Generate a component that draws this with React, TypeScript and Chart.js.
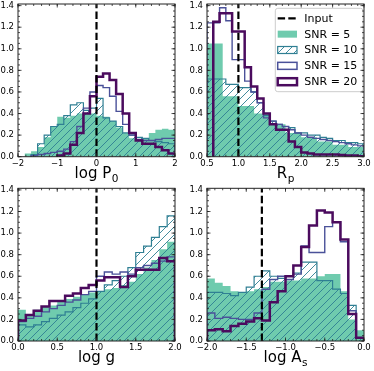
import React, { useEffect, useRef } from 'react';
import { Chart, registerables } from 'chart.js';

Chart.register(...registerables);

const FONT_FAMILY = '"DejaVu Sans", "Liberation Sans", sans-serif';
Chart.defaults.font.family = FONT_FAMILY;

// ---------------- shared axis / legend data ----------------
const Y_TICK_VALUES = [0, 0.2, 0.4, 0.6, 0.8, 1.0, 1.2, 1.4];
const Y_TICK_LABELS = ['0.0', '0.2', '0.4', '0.6', '0.8', '1.0', '1.2', '1.4'];
const Y_MAX = 1.415;
const LEGEND_LABELS = ['Input', 'SNR = 5', 'SNR = 10', 'SNR = 15', 'SNR = 20'];

// ---------------- panel 1: log P0 ----------------
const P0_TITLE = ['log P', '0'];
const P0_INPUT = 0;
const P0_X_TICKS = [-2, -1, 0, 1, 2];
const P0_X_LABELS = ['−2', '−1', '0', '1', '2'];
const P0_EDGES = [-2, -1.833, -1.667, -1.5, -1.333, -1.167, -1, -0.833, -0.667, -0.5, -0.333, -0.167, 0,
  0.167, 0.333, 0.5, 0.667, 0.833, 1, 1.167, 1.333, 1.5, 1.667, 1.833, 2];
const P0_SNR5 = [0, 0.03, 0.05, 0.09, 0.18, 0.28, 0.37, 0.36, 0.38, 0.4, 0.4, 0.4, 0.38, 0.37, 0.33, 0.27, 0.22, 0.17, 0.15, 0.17, 0.22, 0.25, 0.26, 0.25];
const P0_SNR10 = [0, 0, 0.02, 0.12, 0.2, 0.28, 0.3, 0.38, 0.48, 0.5, 0.43, 0.45, 0.54, 0.36, 0.33, 0.28, 0.22, 0.2, 0.18, 0.17, 0.15, 0.14, 0.13, 0.12];
const P0_SNR15 = [0, 0, 0.01, 0.02, 0.03, 0.04, 0.05, 0.07, 0.14, 0.28, 0.45, 0.6, 0.66, 0.64, 0.56, 0.42, 0.3, 0.2, 0.16, 0.15, 0.15, 0.16, 0.17, 0.17];
const P0_SNR20 = [0, 0, 0, 0, 0, 0, 0.01, 0.03, 0.11, 0.22, 0.4, 0.56, 0.74, 0.77, 0.71, 0.58, 0.4, 0.22, 0.15, 0.12, 0.12, 0.09, 0.06, 0.03];

// ---------------- panel 2: R_p ----------------
const RP_TITLE = ['R', 'p'];
const RP_INPUT = 1;
const RP_X_TICKS = [0.5, 1.0, 1.5, 2.0, 2.5, 3.0];
const RP_X_LABELS = ['0.5', '1.0', '1.5', '2.0', '2.5', '3.0'];
const RP_EDGES = [0.5, 0.6, 0.7, 0.8, 0.9, 1.0, 1.1, 1.2, 1.3, 1.4, 1.5, 1.6, 1.7, 1.8, 1.9, 2.0,
  2.1, 2.2, 2.3, 2.4, 2.5, 2.6, 2.7, 2.8, 2.9, 3.0];
const RP_EDGES_SNR5 = [0.5, 0.75, 1.0, 1.25, 1.5, 1.75, 2.0, 2.25, 2.5, 2.75, 3.0];
const RP_SNR5 = [1.05, 0.56, 0.47, 0.4, 0.3, 0.22, 0.18, 0.14, 0.11, 0.09];
const RP_SNR10 = [0.72, 0.72, 0.72, 0.67, 0.67, 0.64, 0.64, 0.6, 0.5, 0.38, 0.33, 0.3, 0.28, 0.27, 0.22, 0.22, 0.2, 0.2, 0.18, 0.17, 0.15, 0.15, 0.13, 0.13, 0.12];
const RP_SNR15 = [1.24, 1.24, 1.38, 1.26, 0.9, 0.9, 0.7, 0.6, 0.5, 0.36, 0.33, 0.3, 0.28, 0.25, 0.22, 0.2, 0.18, 0.17, 0.16, 0.15, 0.14, 0.13, 0.12, 0.11, 0.1];
const RP_SNR20 = [0, 1.25, 1.33, 1.33, 1.16, 1.16, 0.83, 0.65, 0.54, 0.4, 0.3, 0.25, 0.25, 0.14, 0.09, 0.04, 0.03, 0.02, 0.02, 0.02, 0.02, 0.015, 0.01, 0.01, 0.005];

// ---------------- panel 3: log g ----------------
const LG_TITLE = ['log g', ''];
const LG_INPUT = 1;
const LG_X_TICKS = [0, 0.5, 1.0, 1.5, 2.0];
const LG_X_LABELS = ['0.0', '0.5', '1.0', '1.5', '2.0'];
const LG_EDGES = [0, 0.1, 0.2, 0.3, 0.4, 0.5, 0.6, 0.7, 0.8, 0.9, 1.0, 1.1, 1.2, 1.3, 1.4, 1.5, 1.6, 1.7, 1.8, 1.9, 2.0];
const LG_SNR5 = [0.29, 0.25, 0.29, 0.32, 0.33, 0.37, 0.39, 0.41, 0.43, 0.45, 0.46, 0.48, 0.49, 0.52, 0.55, 0.62, 0.68, 0.75, 0.85, 0.92];
const LG_SNR10 = [0.15, 0.13, 0.15, 0.18, 0.21, 0.24, 0.27, 0.31, 0.35, 0.39, 0.46, 0.52, 0.56, 0.6, 0.68, 0.82, 0.88, 0.96, 1.06, 1.16];
const LG_SNR15 = [0.18, 0.21, 0.23, 0.27, 0.3, 0.33, 0.36, 0.38, 0.43, 0.46, 0.6, 0.64, 0.62, 0.64, 0.62, 0.68, 0.7, 0.72, 0.74, 0.78];
const LG_SNR20 = [0.19, 0.24, 0.28, 0.32, 0.37, 0.37, 0.42, 0.44, 0.49, 0.52, 0.56, 0.59, 0.59, 0.5, 0.6, 0.66, 0.66, 0.66, 0.77, 0.74];

// ---------------- panel 4: log A_s ----------------
const AS_TITLE = ['log A', 's'];
const AS_INPUT = -1.301;
const AS_X_TICKS = [-2, -1.5, -1, -0.5, 0];
const AS_X_LABELS = ['−2.0', '−1.5', '−1.0', '−0.5', '0.0'];
const AS_EDGES = [-2, -1.9, -1.8, -1.7, -1.6, -1.5, -1.4, -1.3, -1.2, -1.1, -1.0, -0.9, -0.8, -0.7, -0.6, -0.5, -0.4, -0.3, -0.2, -0.1, 0];
const AS_SNR5 = [0.58, 0.54, 0.51, 0.46, 0.45, 0.46, 0.48, 0.5, 0.55, 0.55, 0.56, 0.56, 0.58, 0.58, 0.6, 0.62, 0.62, 0.46, 0.2, 0.1];
const AS_SNR10 = [0.45, 0.45, 0.44, 0.42, 0.45, 0.5, 0.6, 0.65, 0.6, 0.58, 0.6, 0.63, 0.73, 0.73, 0.56, 0.56, 0.48, 0.44, 0.33, 0.03];
const AS_SNR15 = [0.26, 0.21, 0.22, 0.21, 0.2, 0.2, 0.26, 0.48, 0.57, 0.6, 0.57, 0.62, 0.88, 0.82, 0.82, 1.06, 1.1, 0.92, 0.28, 0.03];
const AS_SNR20 = [0.1, 0.11, 0.09, 0.14, 0.16, 0.18, 0.21, 0.19, 0.36, 0.46, 0.6, 0.7, 0.87, 1.07, 1.21, 1.19, 1.1, 0.94, 0.25, 0.03];

// ---------------- styles ----------------
const GREEN = '#6fcbae';
const TEAL = '#2f7f93';
const BLUE = '#4a5199';
const PURPLE = '#4b0b5e';
const SPINE = '#222222';

type Pt = { x: number; y: number };

function stepPoints(edges: number[], values: number[]): Pt[] {
  let first = 0;
  while (first < values.length && values[first] === 0) first++;
  let last = values.length - 1;
  while (last >= 0 && values[last] === 0) last--;
  const pts: Pt[] = [{ x: edges[first], y: 0 }];
  for (let i = first; i <= last; i++) {
    pts.push({ x: edges[i], y: values[i] });
    pts.push({ x: edges[i + 1], y: values[i] });
  }
  pts.push({ x: edges[last + 1], y: 0 });
  return pts;
}

function makeHatch(ctx: CanvasRenderingContext2D, color: string) {
  const c = document.createElement('canvas');
  c.width = 8;
  c.height = 8;
  const g = c.getContext('2d')!;
  g.strokeStyle = color;
  g.lineWidth = 0.9;
  g.beginPath();
  g.moveTo(-1, 9);
  g.lineTo(9, -1);
  g.moveTo(-1, 1);
  g.lineTo(1, -1);
  g.moveTo(7, 9);
  g.lineTo(9, 7);
  g.stroke();
  return ctx.createPattern(c, 'repeat');
}

const frameTicksPlugin = {
  id: 'frameTicks',
  afterDraw(chart: any, _args: any, opts: any) {
    const { ctx, chartArea: a } = chart;
    const xs = chart.scales.x;
    const ys = chart.scales.y;
    ctx.save();
    ctx.strokeStyle = SPINE;
    ctx.lineWidth = 0.8;
    const seg = (x1: number, y1: number, x2: number, y2: number) => {
      ctx.beginPath();
      ctx.moveTo(x1, y1);
      ctx.lineTo(x2, y2);
      ctx.stroke();
    };
    const xTick = (v: number, len: number) => {
      const p = xs.getPixelForValue(v);
      seg(p, a.bottom, p, a.bottom - len);
      seg(p, a.top, p, a.top + len);
    };
    const yTick = (v: number, len: number) => {
      const p = ys.getPixelForValue(v);
      seg(a.left, p, a.left + len, p);
      seg(a.right, p, a.right - len, p);
    };
    const nx = Math.round((xs.max - xs.min) / opts.xMinor);
    for (let i = 0; i <= nx; i++) xTick(xs.min + i * opts.xMinor, 2);
    const ny = Math.floor((ys.max - ys.min) / opts.yMinor + 1e-6);
    for (let i = 0; i <= ny; i++) yTick(ys.min + i * opts.yMinor, 2);
    xs.ticks.forEach((t: any) => xTick(t.value, 3.5));
    ys.ticks.forEach((t: any) => yTick(t.value, 3.5));
    ctx.lineWidth = 1;
    ctx.strokeRect(a.left, a.top, a.right - a.left, a.bottom - a.top);
    ctx.restore();
  },
};

// x-axis title with a math-style subscript, placed under the chart area
const axisTitlePlugin = {
  id: 'axisTitle',
  afterDraw(chart: any, _args: any, opts: any) {
    const { ctx, chartArea: a } = chart;
    const [main, sub] = opts.text as string[];
    ctx.save();
    ctx.fillStyle = '#000';
    ctx.textAlign = 'left';
    ctx.textBaseline = 'alphabetic';
    ctx.font = `15px ${FONT_FAMILY}`;
    const w1 = ctx.measureText(main).width;
    ctx.font = `10.5px ${FONT_FAMILY}`;
    const w2 = sub ? ctx.measureText(sub).width + 0.5 : 0;
    const x0 = (a.left + a.right) / 2 - (w1 + w2) / 2;
    const base = a.bottom + 21.3;
    ctx.font = `15px ${FONT_FAMILY}`;
    ctx.fillText(main, x0, base);
    if (sub) {
      ctx.font = `10.5px ${FONT_FAMILY}`;
      ctx.fillText(sub, x0 + w1 + 0.5, base + 3.6);
    }
    ctx.restore();
  },
};

const legendPlugin = {
  id: 'histLegend',
  afterDatasetsDraw(chart: any, _args: any, opts: any) {
    if (!opts || !opts.show) return;
    const { ctx, chartArea: a } = chart;
    const hatch = opts.hatch;
    const boxR = a.right - 1;
    const boxL = boxR - 87.7;
    const boxT = a.top + 4.3;
    const boxB = a.top + 87.7;
    ctx.save();
    ctx.beginPath();
    ctx.roundRect(boxL, boxT, boxR - boxL, boxB - boxT, 2.5);
    ctx.fillStyle = 'rgba(255,255,255,0.8)';
    ctx.fill();
    ctx.strokeStyle = '#cccccc';
    ctx.lineWidth = 1;
    ctx.stroke();
    const hx = boxL + 2.4;
    const hw = 19.3;
    const hh = 7;
    const tx = boxL + 29;
    LEGEND_LABELS.forEach((label, i) => {
      const cy = a.top + 14.3 + i * 15.85;
      ctx.setLineDash([]);
      if (i === 0) {
        ctx.strokeStyle = '#000';
        ctx.lineWidth = 2.2;
        ctx.setLineDash([7.4, 3.2]);
        ctx.beginPath();
        ctx.moveTo(hx, cy);
        ctx.lineTo(hx + hw, cy);
        ctx.stroke();
        ctx.setLineDash([]);
      } else if (i === 1) {
        ctx.fillStyle = GREEN;
        ctx.fillRect(hx, cy - hh / 2, hw, hh);
      } else if (i === 2) {
        ctx.fillStyle = hatch;
        ctx.fillRect(hx, cy - hh / 2, hw, hh);
        ctx.strokeStyle = TEAL;
        ctx.lineWidth = 1.2;
        ctx.strokeRect(hx, cy - hh / 2, hw, hh);
      } else if (i === 3) {
        ctx.strokeStyle = BLUE;
        ctx.lineWidth = 1.5;
        ctx.strokeRect(hx, cy - hh / 2, hw, hh);
      } else {
        ctx.strokeStyle = PURPLE;
        ctx.lineWidth = 2.5;
        ctx.strokeRect(hx, cy - hh / 2, hw, hh);
      }
      ctx.fillStyle = '#000';
      ctx.font = `11px ${FONT_FAMILY}`;
      ctx.textBaseline = 'middle';
      ctx.textAlign = 'left';
      ctx.fillText(label, tx, cy + 0.5);
    });
    ctx.restore();
  },
};

type Series = { edges: number[]; values: number[] };
type PanelSpec = {
  title: string[];
  input: number;
  xTicks: number[];
  xLabels: string[];
  xMinor: number;
  snr5: Series;
  snr10: Series;
  snr15: Series;
  snr20: Series;
  legend: boolean;
};
type PanelBox = {
  x: number; y: number; w: number; h: number;
  padTop: number; padRight: number; yWidth: number; xHeight: number;
};

const PANELS: { spec: PanelSpec; box: PanelBox }[] = [
  {
    spec: {
      title: P0_TITLE, input: P0_INPUT, xTicks: P0_X_TICKS, xLabels: P0_X_LABELS, xMinor: 0.2,
      snr5: { edges: P0_EDGES, values: P0_SNR5 }, snr10: { edges: P0_EDGES, values: P0_SNR10 },
      snr15: { edges: P0_EDGES, values: P0_SNR15 }, snr20: { edges: P0_EDGES, values: P0_SNR20 }, legend: false,
    },
    box: { x: 0, y: 0, w: 187, h: 185, padTop: 4, padRight: 12, yWidth: 18, xHeight: 28.3 },
  },
  {
    spec: {
      title: RP_TITLE, input: RP_INPUT, xTicks: RP_X_TICKS, xLabels: RP_X_LABELS, xMinor: 0.1,
      snr5: { edges: RP_EDGES_SNR5, values: RP_SNR5 }, snr10: { edges: RP_EDGES, values: RP_SNR10 },
      snr15: { edges: RP_EDGES, values: RP_SNR15 }, snr20: { edges: RP_EDGES, values: RP_SNR20 }, legend: true,
    },
    box: { x: 187, y: 0, w: 187, h: 185, padTop: 4, padRight: 10, yWidth: 20, xHeight: 28.3 },
  },
  {
    spec: {
      title: LG_TITLE, input: LG_INPUT, xTicks: LG_X_TICKS, xLabels: LG_X_LABELS, xMinor: 0.1,
      snr5: { edges: LG_EDGES, values: LG_SNR5 }, snr10: { edges: LG_EDGES, values: LG_SNR10 },
      snr15: { edges: LG_EDGES, values: LG_SNR15 }, snr20: { edges: LG_EDGES, values: LG_SNR20 }, legend: false,
    },
    box: { x: 0, y: 185, w: 187, h: 186, padTop: 3.3, padRight: 12, yWidth: 18, xHeight: 30 },
  },
  {
    spec: {
      title: AS_TITLE, input: AS_INPUT, xTicks: AS_X_TICKS, xLabels: AS_X_LABELS, xMinor: 0.1,
      snr5: { edges: AS_EDGES, values: AS_SNR5 }, snr10: { edges: AS_EDGES, values: AS_SNR10 },
      snr15: { edges: AS_EDGES, values: AS_SNR15 }, snr20: { edges: AS_EDGES, values: AS_SNR20 }, legend: false,
    },
    box: { x: 187, y: 185, w: 187, h: 186, padTop: 3.3, padRight: 10, yWidth: 20, xHeight: 30 },
  },
];

function labelFor(vals: number[], labels: string[], v: number) {
  const i = vals.findIndex((t) => Math.abs(t - v) < 1e-9);
  return i >= 0 ? labels[i] : '';
}

function Panel({ spec, box }: { spec: PanelSpec; box: PanelBox }) {
  const ref = useRef<HTMLCanvasElement>(null);
  useEffect(() => {
    const canvas = ref.current!;
    const ctx = canvas.getContext('2d')!;
    const hatch = makeHatch(ctx, TEAL);
    const xMin = spec.xTicks[0];
    const xMax = spec.xTicks[spec.xTicks.length - 1];
    const lineBase = { pointRadius: 0, pointHoverRadius: 0, tension: 0, borderJoinStyle: 'miter', borderCapStyle: 'butt' };
    const chart = new Chart(canvas, {
      type: 'line',
      data: {
        datasets: [
          {
            ...lineBase, label: 'Input', order: 0,
            data: [{ x: spec.input, y: 0 }, { x: spec.input, y: Y_MAX }],
            borderColor: '#000', borderWidth: 2.2, borderDash: [7.4, 3.2], fill: false,
          },
          {
            ...lineBase, label: 'SNR = 20', order: 1,
            data: stepPoints(spec.snr20.edges, spec.snr20.values),
            borderColor: PURPLE, borderWidth: 2.5, fill: false,
          },
          {
            ...lineBase, label: 'SNR = 15', order: 2,
            data: stepPoints(spec.snr15.edges, spec.snr15.values),
            borderColor: BLUE, borderWidth: 1.4, fill: false,
          },
          {
            ...lineBase, label: 'SNR = 10', order: 3,
            data: stepPoints(spec.snr10.edges, spec.snr10.values),
            borderColor: TEAL, borderWidth: 1.2, fill: 'origin', backgroundColor: hatch,
          },
          {
            ...lineBase, label: 'SNR = 5', order: 4,
            data: stepPoints(spec.snr5.edges, spec.snr5.values),
            borderColor: 'rgba(0,0,0,0)', borderWidth: 0, fill: 'origin', backgroundColor: GREEN,
          },
        ],
      },
      options: {
        animation: false,
        responsive: false,
        devicePixelRatio: 1,
        events: [],
        layout: { padding: { left: 0, right: box.padRight, top: box.padTop, bottom: 0 } },
        plugins: {
          legend: { display: false },
          tooltip: { enabled: false },
          frameTicks: { xMinor: spec.xMinor, yMinor: 0.05 },
          histLegend: { show: spec.legend, hatch },
          axisTitle: { text: spec.title },
        },
        scales: {
          x: {
            type: 'linear',
            position: 'bottom',
            min: xMin,
            max: xMax,
            grid: { display: false, drawTicks: false },
            border: { display: false },
            afterBuildTicks: (s: any) => { s.ticks = spec.xTicks.map((v) => ({ value: v })); },
            afterFit: (s: any) => { s.height = box.xHeight; s.paddingLeft = 0; s.paddingRight = 0; },
            ticks: {
              autoSkip: false, maxRotation: 0, minRotation: 0, padding: 1.5, color: '#000',
              font: { size: 8.5, family: FONT_FAMILY },
              callback: (v: any) => labelFor(spec.xTicks, spec.xLabels, Number(v)),
            },
            title: { display: false },
          },
          y: {
            type: 'linear',
            position: 'left',
            min: 0,
            max: Y_MAX,
            grid: { display: false, drawTicks: false },
            border: { display: false },
            afterBuildTicks: (s: any) => { s.ticks = Y_TICK_VALUES.map((v) => ({ value: v })); },
            afterFit: (s: any) => { s.width = box.yWidth; s.paddingTop = 0; s.paddingBottom = 0; },
            ticks: {
              autoSkip: false, padding: 4, color: '#000',
              font: { size: 8.5, family: FONT_FAMILY },
              callback: (v: any) => labelFor(Y_TICK_VALUES, Y_TICK_LABELS, Number(v)),
            },
          },
        },
      } as any,
      plugins: [frameTicksPlugin, legendPlugin, axisTitlePlugin],
    } as any);
    return () => chart.destroy();
  }, []);
  return (
    <canvas
      ref={ref}
      width={box.w}
      height={box.h}
      style={{ position: 'absolute', left: box.x, top: box.y, width: box.w, height: box.h }}
    />
  );
}

export default function App() {
  return (
    <div style={{ position: 'absolute', left: 0, top: 0, width: 374, height: 371, background: '#fff', overflow: 'hidden' }}>
      {PANELS.map((p, i) => (
        <Panel key={i} spec={p.spec} box={p.box} />
      ))}
    </div>
  );
}
